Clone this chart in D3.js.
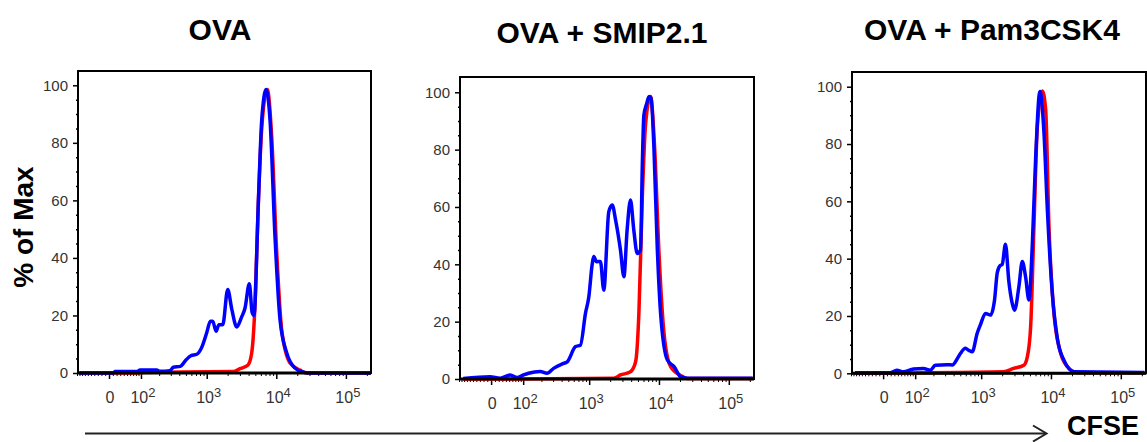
<!DOCTYPE html>
<html>
<head>
<meta charset="utf-8">
<script src="https://cdn.jsdelivr.net/npm/d3@7"></script>
<style>
  body { margin: 0; background: #fff; }
  svg { display: block; font-family: "Liberation Sans", Arial, sans-serif; }
</style>
</head>
<body>
<svg id="chart" width="1147" height="442"></svg>
<script>
// CFSE dilution histograms: % of max against CFSE intensity (biexponential axis)
var titles = ['OVA', 'OVA + SMIP2.1', 'OVA + Pam3CSK4'];
var yTicks = [0, 20, 40, 60, 80, 100];
var xTickExp = [2, 3, 4, 5];
var xDomain = [-96, 229500];

// [CFSE intensity, % of max]
var ovaRed = [[-90,0],[84,0],[100,0.2],[2390,0.5],[3010,1.5],[3930,2.8],[4436,7],[4950,24],[5520,59],[6180,85],
  [7430,98.5],[8600,82],[10140,42],[11970,15],[15740,3.5],[21920,1],[27350,0],[229500,0]];
var ovaBlue = [[-90,0],[11,0],[16,0.5],[83,0.5],[96,1],[183,1],[206,0.6],[292,0.8],[327,2],[414,2.3],[500,4.5],
  [590,6],[719,6.5],[850,9],[1000,14],[1130,18],[1220,18],[1361,14.5],[1500,16.8],[1700,16.8],[2005,29],[2300,22],
  [2700,16],[3180,19.5],[3550,22.5],[4100,31],[4500,21],[4780,20],[5520,59],[6180,88],[7130,98.5],[8130,88],
  [9600,47],[11330,18.4],[14130,7],[18580,1.7],[24200,0.3],[30000,0],[229500,0]];

var smipRed = [[-83,0],[88,0],[2258,0.3],[2809,1.4],[3911,2.5],[4630,6],[5160,23],[5780,63.6],[6440,89],
  [7578,98.5],[8660,81],[10010,44],[11810,16],[14690,4.3],[20450,1.2],[25610,0.2],[219900,0.2]];
var smipBlue = [[-83,0.2],[-2.6,0.8],[24,0.3],[53,1.4],[76,0.5],[101,1.4],[124,2],[192,2.6],[243,2],[305,3.7],
  [410,5.3],[483,6],[636,11.3],[748,11.8],[886,23],[988,28.6],[1105,40],[1162,42.7],[1274,40.9],[1450,41],
  [1620,31],[1913,58.4],[2142,60.7],[2390,55.5],[2809,45],[3145,35.7],[3500,52],[3911,62.4],[4360,52],
  [4880,43.8],[5444,45],[5780,75],[6080,92],[6662,96],[7200,98.5],[7700,98],[8460,81],[9450,46],[10550,23],
  [13210,6.6],[16440,4.3],[20450,0.8],[25610,0.3],[219900,0.3]];

var pamRed = [[-84,0],[2093,0.5],[2913,1.7],[4098,2.8],[4585,5.7],[5114,16.1],[5704,51],[6381,86],[7530,98.5],
  [8400,92],[9370,51],[11050,20.7],[13800,7],[17220,2.3],[23960,0.2],[218000,0.2]];
var pamBlue = [[-84,0.2],[18.5,0.2],[37,1.1],[57,0.5],[93,1.5],[139,1.7],[179,1.1],[214,2.8],[320,3],[383,2.9],
  [452,5.1],[505,7],[595,8.7],[664,8],[743,7.5],[877,14],[978,17],[1154,20.9],[1361,20.3],[1554,25.5],[1699,35],
  [1852,37.5],[2005,38],[2230,45],[2495,32],[2790,24.4],[3010,22],[3472,30.2],[3886,39],[4333,33.6],[4833,25.6],
  [5410,45],[6033,75],[6950,98.3],[7940,84],[8886,57],[10480,27.5],[12370,12],[15390,4.5],[21420,0.5],[218000,0.3]];

var svg = d3.select('#chart');
var C = 79;
var tx = function(v) { return Math.asinh(v / C); };

var panels = [
  {title: titles[0], red: ovaRed, blue: ovaBlue, left: 78, top: 71, width: 293, bottom: 373, y100: 85.3, titleX: 220, titleY: 40},
  {title: titles[1], red: smipRed, blue: smipBlue, left: 460, top: 77, width: 294, bottom: 379, y100: 92.3, titleX: 602, titleY: 43},
  {title: titles[2], red: pamRed, blue: pamBlue, left: 852, top: 72, width: 294, bottom: 373.3, y100: 86.7, titleX: 992, titleY: 40}
];

// minor ticks on the CFSE axis
var minorX = [];
[-1, 1].forEach(function(s) { for (var i = 1; i <= 9; i++) minorX.push(s * i * 10); });
minorX.push(-100);
[2, 3, 4].forEach(function(k) { for (var i = 2; i <= 9; i++) minorX.push(i * Math.pow(10, k)); });
minorX.push(200000);

panels.forEach(function(p) {
  var x = d3.scaleLinear().domain([tx(xDomain[0]), tx(xDomain[1])]).range([p.left, p.left + p.width]);
  var y = d3.scaleLinear().domain([0, 100]).range([p.bottom, p.y100]);
  var pos = function(v) { return x(tx(v)); };
  var g = svg.append('g');

  g.append('text')
    .attr('x', p.titleX).attr('y', p.titleY)
    .attr('text-anchor', 'middle')
    .style('font-size', '30px').style('font-weight', 'bold')
    .text(p.title);

  // y axis
  var ya = g.append('g').attr('transform', 'translate(' + p.left + ',0)')
    .call(d3.axisLeft(y).tickValues(yTicks).tickSize(5).tickPadding(5));
  ya.select('.domain').remove();
  ya.selectAll('line').attr('stroke', '#000').attr('stroke-width', 1.5);
  ya.selectAll('text').style('font-size', '15px').style('font-family', '"Liberation Sans", Arial, sans-serif')
    .attr('fill', '#333');
  var yMinor = g.append('g').attr('transform', 'translate(' + p.left + ',0)')
    .call(d3.axisLeft(y).tickValues(d3.range(5, 100, 5).filter(function(v) { return v % 20; }))
      .tickSize(2).tickFormat(''));
  yMinor.select('.domain').remove();
  yMinor.selectAll('line').attr('stroke', '#000').attr('stroke-width', 1.5);

  // x axis
  var xa = g.append('g').attr('transform', 'translate(0,' + p.bottom + ')')
    .call(d3.axisBottom(x).tickValues([0].concat(xTickExp.map(function(k) { return tx(Math.pow(10, k)); })))
      .tickSize(6).tickFormat(''));
  xa.select('.domain').remove();
  xa.selectAll('line').attr('stroke', '#000').attr('stroke-width', 1.5);
  var xm = g.append('g').attr('transform', 'translate(0,' + p.bottom + ')')
    .call(d3.axisBottom(x).tickValues(minorX.map(tx)).tickSize(3).tickFormat(''));
  xm.select('.domain').remove();
  xm.selectAll('line').attr('stroke', '#000').attr('stroke-width', 1);

  g.append('text')
    .attr('x', pos(0) + 1).attr('y', p.bottom + 30)
    .attr('text-anchor', 'middle').attr('fill', '#333')
    .style('font-size', '16px').text('0');
  xTickExp.forEach(function(k) {
    var t = g.append('text')
      .attr('x', pos(Math.pow(10, k)) + 2).attr('y', p.bottom + 30)
      .attr('text-anchor', 'middle').attr('fill', '#333')
      .style('font-size', '16px');
    t.append('tspan').text('10');
    t.append('tspan').attr('dy', -6).style('font-size', '13px').text(k);
  });

  // histograms
  var line = d3.line()
    .x(function(d) { return pos(d[0]); })
    .y(function(d) { return y(d[1]); })
    .curve(d3.curveMonotoneX);
  g.append('path').datum(p.red)
    .attr('d', line).attr('fill', 'none')
    .attr('stroke', '#ff0000').attr('stroke-width', 3.5).attr('stroke-linejoin', 'round');
  g.append('path').datum(p.blue)
    .attr('d', line).attr('fill', 'none')
    .attr('stroke', '#0000ff').attr('stroke-width', 3.5).attr('stroke-linejoin', 'round');

  // frame
  g.append('rect')
    .attr('x', p.left).attr('y', p.top)
    .attr('width', p.width).attr('height', p.bottom - p.top)
    .attr('fill', 'none').attr('stroke', '#000').attr('stroke-width', 2);
  g.append('line')
    .attr('x1', p.left).attr('x2', p.left + p.width)
    .attr('y1', p.bottom).attr('y2', p.bottom)
    .attr('stroke', '#000').attr('stroke-width', 3);
});

svg.append('text')
  .attr('transform', 'translate(33,227) rotate(-90)')
  .attr('text-anchor', 'middle')
  .style('font-size', '28px').style('font-weight', 'bold')
  .text('% of Max');

// CFSE arrow
svg.append('line')
  .attr('x1', 85).attr('x2', 1046).attr('y1', 433.5).attr('y2', 433.5)
  .attr('stroke', '#222').attr('stroke-width', 2);
svg.append('path')
  .attr('d', 'M1033,425.5 L1046.5,433.5 L1033,441.5')
  .attr('fill', 'none').attr('stroke', '#222').attr('stroke-width', 2);
svg.append('text')
  .attr('x', 1067).attr('y', 435)
  .style('font-size', '27px').style('font-weight', 'bold')
  .text('CFSE');
</script>
</body>
</html>
